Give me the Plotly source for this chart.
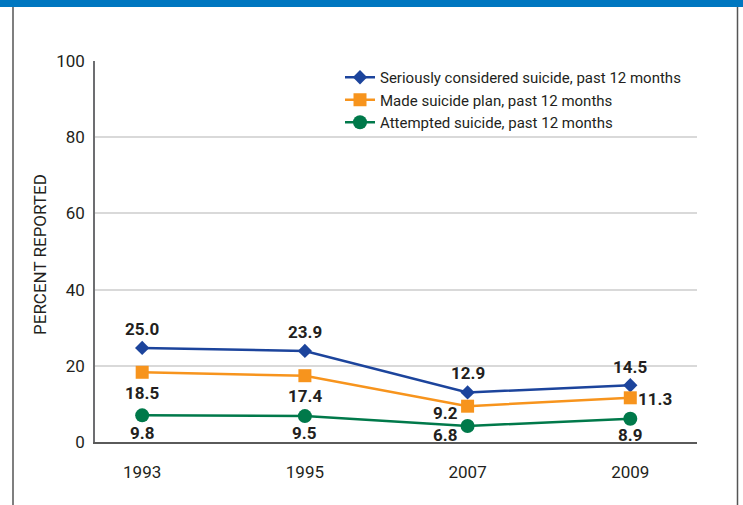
import plotly.graph_objects as go

years = ["1993", "1995", "2007", "2009"]
considered = [24.7, 23.9, 13.0, 14.9]
considered_labels = ["25.0", "23.9", "12.9", "14.5"]
plan = [18.3, 17.4, 9.4, 11.6]
plan_labels = ["18.5", "17.4", "9.2", "11.3"]
attempted = [7.0, 6.8, 4.2, 6.1]
attempted_labels = ["9.8", "9.5", "6.8", "8.9"]
y_ticks = [0, 20, 40, 60, 80, 100]

W, H = 743, 505
L, R, T, B = 95, 46, 61, 63
PW, PH = W - L - R, H - T - B

def px_x(p):
    return (p - L) / PW

def px_y(p):
    return (H - B - p) / PH

TXT = "#231f20"
FONT = "Roboto"

series = [
    ("Seriously considered suicide, past 12 months", considered, considered_labels,
     "#1c449c", "diamond", 11, [(0, 19), (0, 19), (0, 19), (0, 18)]),
    ("Made suicide plan, past 12 months", plan, plan_labels,
     "#f7941d", "square", 13, [(0, -21), (0, -20), (-22, -7), (25, -1)]),
    ("Attempted suicide, past 12 months", attempted, attempted_labels,
     "#00794a", "circle", 14, [(0, -18), (0, -17), (-23, -9), (0, -16)]),
]

fig = go.Figure()
annotations = []
for name, vals, labels, color, sym, size, offs in series:
    fig.add_trace(go.Scatter(
        x=years, y=vals, name=name, mode="lines+markers",
        line=dict(color=color, width=2.5),
        marker=dict(symbol=sym, size=size, color=color),
    ))
    for i, (yv, lab, (dx, dy)) in enumerate(zip(vals, labels, offs)):
        annotations.append(dict(
            x=i, y=yv, xref="x", yref="y", text="<b>%s</b>" % lab, showarrow=False,
            xanchor="center", yanchor="middle",
            xshift=dx, yshift=dy,
            font=dict(family=FONT, size=17, color=TXT),
        ))

annotations.append(dict(
    x=px_x(40), y=px_y(255), xref="paper", yref="paper",
    xanchor="center", yanchor="middle",
    text="PERCENT REPORTED", textangle=-90, showarrow=False,
    font=dict(family=FONT, size=17, color=TXT),
))

shapes = [
    dict(type="rect", xref="paper", yref="paper",
         x0=px_x(0), x1=px_x(W), y0=px_y(7), y1=px_y(0),
         fillcolor="#0077c0", line=dict(width=0), layer="above"),
    dict(type="line", xref="paper", yref="paper",
         x0=px_x(13), x1=px_x(13), y0=px_y(7), y1=px_y(H),
         line=dict(color="#555555", width=1.5)),
    dict(type="line", xref="paper", yref="paper",
         x0=px_x(737.5), x1=px_x(737.5), y0=px_y(7), y1=px_y(H),
         line=dict(color="#555555", width=1.5)),
]

fig.update_layout(
    width=W, height=H,
    margin=dict(l=L, r=R, t=T, b=B, pad=0),
    paper_bgcolor="white", plot_bgcolor="white",
    font=dict(family=FONT, size=17, color=TXT),
    showlegend=True,
    legend=dict(
        x=px_x(340), y=px_y(61), xanchor="left", yanchor="top",
        bgcolor="rgba(0,0,0,0)", borderwidth=0,
        font=dict(family=FONT, size=15, color=TXT),
        tracegroupgap=0, itemsizing="trace",
    ),
    xaxis=dict(
        type="category", range=[-0.29, 3.41],
        showgrid=False, zeroline=False,
        showline=True, linecolor="#5a5a5a", linewidth=1.5,
        ticks="", ticklabelstandoff=14,
        tickfont=dict(family=FONT, size=17, color=TXT),
    ),
    yaxis=dict(
        range=[0, 100], tickvals=y_ticks,
        showgrid=True, gridcolor="#d9d9d9", gridwidth=1.5,
        zeroline=False,
        showline=True, linecolor="#6d6e71", linewidth=1.5,
        ticks="", ticklabelstandoff=5,
        tickfont=dict(family=FONT, size=17, color=TXT),
    ),
    annotations=annotations,
    shapes=shapes,
)

fig.write_html("out.html")
